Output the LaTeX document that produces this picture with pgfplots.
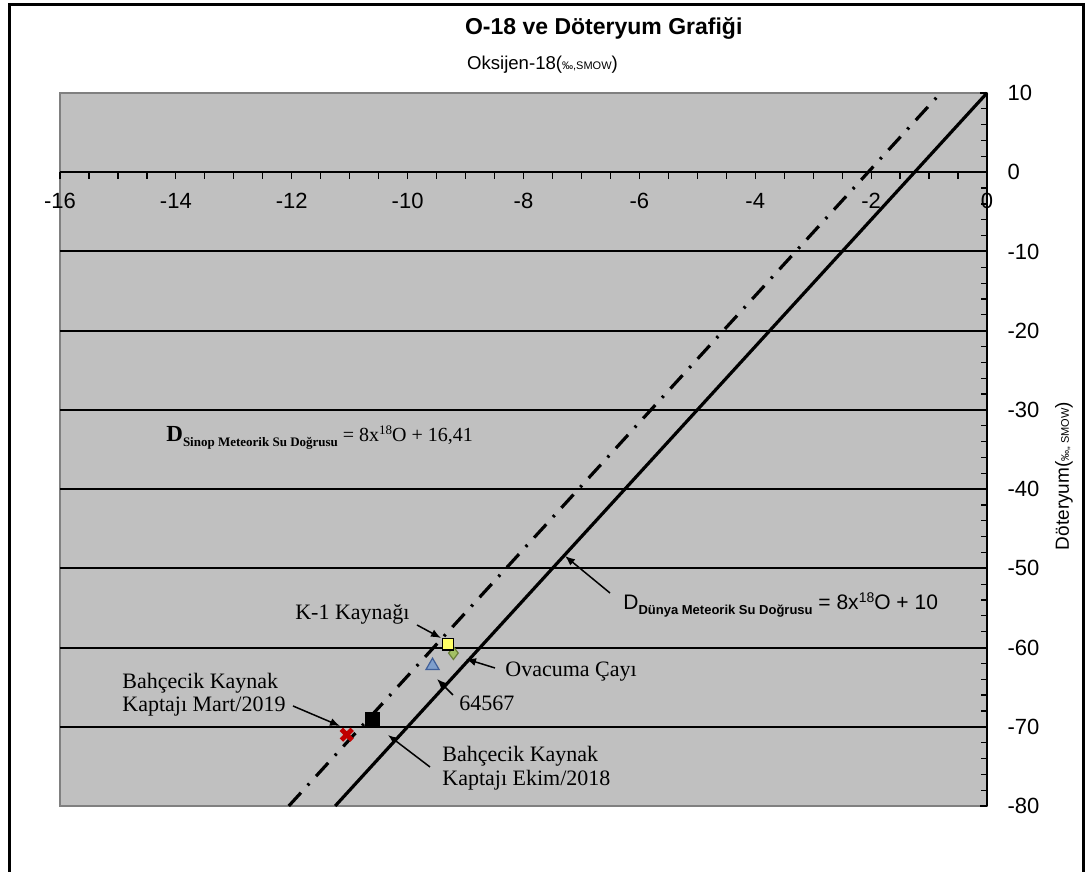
\documentclass[border=0pt]{standalone}
\usepackage{pgfplots}
\pgfplotsset{compat=1.18}
\usepackage{fontspec}
\setmainfont{Liberation Sans}
\newfontfamily\tnr{Liberation Serif}
\usetikzlibrary{arrows.meta}

\definecolor{plotgray}{HTML}{C0C0C0}
\definecolor{bordergray}{HTML}{808080}
\definecolor{k1yellow}{HTML}{FFFF66}
\definecolor{ovgreen}{HTML}{A3C064}
\definecolor{ovgreenD}{HTML}{6B7F3A}
\definecolor{triblue}{HTML}{7F9FCC}
\definecolor{triblueD}{HTML}{3F5F99}
\definecolor{martred}{HTML}{C00000}

\begin{document}
\begin{tikzpicture}
\path[use as bounding box] (0,0) rectangle (544.5pt,436pt);
\begin{axis}[
  at={(30pt,33pt)}, anchor=south west,
  width=463.5pt, height=356.5pt, scale only axis,
  xmin=-16, xmax=0, ymin=-80, ymax=10,
  axis x line*=middle, axis y line*=right,
  axis line style={black, line width=1pt, -},
  axis background/.style={fill=plotgray, draw=bordergray, line width=1pt},
  xtick={-16,-14,...,0}, minor x tick num=3,
  ytick={-80,-70,...,10}, minor y tick num=4,
  hide obscured x ticks=false, hide obscured y ticks=false,
  tick align=center,
  major tick length=3.5pt, minor tick length=3pt,
  every tick/.style={black, line width=0.6pt},
  xtick style={yshift=-1.75pt},
  ytick style={xshift=-1.75pt},
  /pgf/number format/assume math mode=true,
  ticklabel style={font=\fontsize{11}{13}\selectfont},
  xticklabel style={yshift=-5pt, text height=8pt, text depth=0pt},
  yticklabel style={anchor=west, xshift=5pt},
  clip=false,
]
% horizontal grid lines
\pgfplotsinvokeforeach{-70,-60,-50,-40,-30,-20,-10}{
  \draw[black, line width=1pt] (axis cs:-16,#1) -- (axis cs:0,#1);
}
% Sinop meteoric water line (dash-dot) and global meteoric water line
\addplot[black, line width=1.6pt, dash pattern=on 9pt off 5pt on 1.2pt off 5pt]
  coordinates {(-12.05125,-80) (-0.80125,10)};
\addplot[black, line width=1.6pt]
  coordinates {(-11.25,-80) (0,10)};

% samples
\addplot[only marks, mark=x, mark size=3.8pt, draw=martred, line width=2.4pt]
  coordinates {(-11.05,-71.0)};
\addplot[only marks, mark=square*, mark size=3.5pt, black]
  coordinates {(-10.61,-69.1)};
\addplot[only marks, mark=triangle*, mark size=3.8pt, draw=triblueD, fill=triblue, line width=0.6pt]
  coordinates {(-9.57,-62.3)};
\addplot[only marks, mark=diamond*, mark size=3.2pt, draw=ovgreenD, fill=ovgreen, line width=0.6pt]
  coordinates {(-9.21,-60.7)};
\addplot[only marks, mark=square*, mark size=2.8pt, draw=black, fill=k1yellow, line width=0.6pt]
  coordinates {(-9.30,-59.6)};
\end{axis}

\begin{scope}[x=0.5pt, y=-0.5pt, yshift=436pt]
\draw[black, line width=1.5pt] (9,880) -- (9,5) -- (1083,5) -- (1083,880);

\node[anchor=west, font=\bfseries\fontsize{11.5}{13}\selectfont] at (458,28) {O-18 ve Döteryum Grafiği};
\node[anchor=west, font=\fontsize{9.3}{11}\selectfont] at (460,65)
  {Oksijen-18({\fontsize{5.5}{6}\selectfont ‰,SMOW})};
\node[rotate=90, font=\fontsize{9.5}{11}\selectfont] at (1064,476)
  {Döteryum({\fontsize{5.5}{6}\selectfont ‰,, SMOW})};

\node[anchor=base west, inner sep=0, font=\tnr\fontsize{10}{12}\selectfont] at (166,442)
  {\textbf{\fontsize{11.5}{13}\selectfont D}\raisebox{-2.5pt}{\bfseries\fontsize{6.5}{7}\selectfont Sinop Meteorik Su Doğrusu} = 8x\raisebox{3.5pt}{\fontsize{6.5}{8}\selectfont 18}O + 16,41};
\node[anchor=base west, inner sep=0, font=\fontsize{10.5}{12}\selectfont] at (623,610)
  {D\raisebox{-2.5pt}{\bfseries\fontsize{6.5}{7}\selectfont Dünya Meteorik Su Doğrusu} = 8x\raisebox{3.5pt}{\fontsize{7}{8}\selectfont 18}O + 10};

\begin{scope}[font=\tnr\fontsize{11}{13}\selectfont, every node/.style={inner sep=0}]
\node[anchor=base east] at (410,620) {K-1 Kaynağı};
\node[anchor=base west] at (505,677) {Ovacuma Çayı};
\node[anchor=base west] at (459,711) {64567};
\node[anchor=base west] at (122,689) {Bahçecik Kaynak};
\node[anchor=base west] at (122,712) {Kaptajı Mart/2019};
\node[anchor=base west] at (442,762) {Bahçecik Kaynak};
\node[anchor=base west] at (442,786) {Kaptajı Ekim/2018};
\end{scope}

\begin{scope}[-{Latex[length=5pt,width=4pt]}, line width=0.75pt, black]
\draw (610,593) -- (565,556);
\draw (417,625) -- (441,638);
\draw (495,668) -- (466,659);
\draw (453,695) -- (437,679);
\draw (293,706) -- (340,726);
\draw (430,767) -- (388,735);
\end{scope}
\end{scope}
\end{tikzpicture}
\end{document}
